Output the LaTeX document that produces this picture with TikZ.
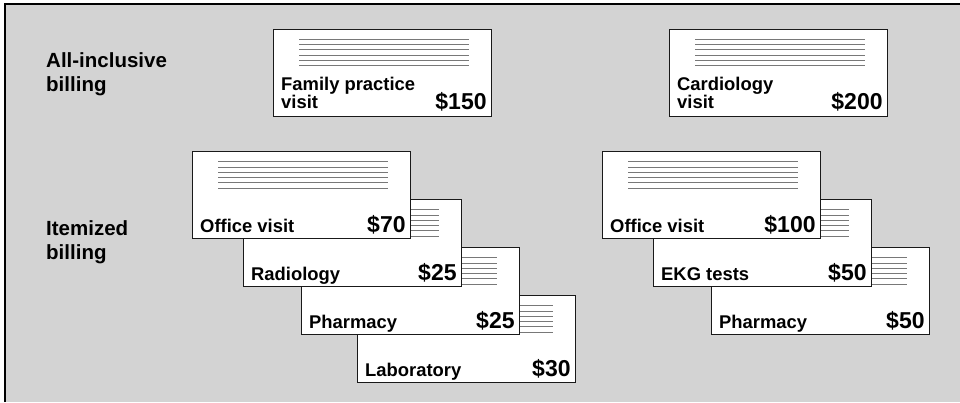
\documentclass[tikz,border=0pt]{standalone}
\usepackage{fontspec}
\setmainfont{Liberation Sans}
\begin{document}
\definecolor{panel}{RGB}{211,211,211}
\definecolor{rulegray}{RGB}{120,120,120}
\definecolor{edge}{RGB}{25,25,25}
\tikzset{
  card/.style={draw=edge, fill=white, line width=1.3bp, anchor=north west,
    inner sep=0pt, minimum width=218bp, minimum height=87bp},
  rule/.style={draw=rulegray, line width=0.9bp},
  itemtext/.style={anchor=base west, inner sep=0pt,
    font=\fontsize{18.4bp}{18.4bp}\selectfont\bfseries},
  pricetext/.style={anchor=base east, inner sep=0pt,
    font=\fontsize{23bp}{23bp}\selectfont\bfseries},
  sidetext/.style={anchor=base west, inner sep=0pt,
    font=\fontsize{20.5bp}{20.5bp}\selectfont\bfseries},
}
% a bill: name, left, top, price; the ruled lines near its top edge
\newcommand{\billcard}[4]{%
  \node[card] (#1) at (#2,#3) {};
  \foreach \k in {0,...,5}
    \draw[rule] ([shift={(26,10.7+5.3*\k)}]#1.north west) -- ++(170,0);
  \node[pricetext] (#1p) at ([shift={(-5.5,-7)}]#1.south east) {#4};
}
\begin{tikzpicture}[x=1bp, y=-1bp]
  \useasboundingbox (0,0) rectangle (960,402);
  \fill[white] (0,0) rectangle (960,402);
  \fill[panel] (5,4) rectangle (960,402);
  \draw[line width=1.6bp, black] (5,402) -- (5,4) -- (960,4);

  % row labels
  \node[sidetext] (allA) at (46,67.7) {All-inclusive};
  \node[sidetext] (allB) at (46,91.7) {billing};
  \node[sidetext] (itA) at (46,235.5) {Itemized};
  \node[sidetext] (itB) at (46,259.5) {billing};

  % all-inclusive bills
  \billcard{fam}{273}{28.5}{\$150}
  \node[itemtext] (famA) at ([shift={(8,-26.7)}]fam.south west) {Family practice};
  \node[itemtext] (famB) at ([shift={(8,-8.7)}]fam.south west) {visit};

  \billcard{card}{669}{28.5}{\$200}
  \node[itemtext] (cardA) at ([shift={(8,-26.7)}]card.south west) {Cardiology};
  \node[itemtext] (cardB) at ([shift={(8,-8.7)}]card.south west) {visit};

  % itemized stack, family practice (back to front)
  \billcard{lab}{357}{295}{\$30}
  \node[itemtext] (labA) at ([shift={(8,-7.3)}]lab.south west) {Laboratory};
  \billcard{phA}{301}{247}{\$25}
  \node[itemtext] (phAt) at ([shift={(8,-7.3)}]phA.south west) {Pharmacy};
  \billcard{rad}{243}{199}{\$25}
  \node[itemtext] (radt) at ([shift={(8,-7.3)}]rad.south west) {Radiology};
  \billcard{offA}{192}{151}{\$70}
  \node[itemtext] (offAt) at ([shift={(8,-7.3)}]offA.south west) {Office visit};

  % itemized stack, cardiology (back to front)
  \billcard{phB}{711}{247}{\$50}
  \node[itemtext] (phBt) at ([shift={(8,-7.3)}]phB.south west) {Pharmacy};
  \billcard{ekg}{653}{199}{\$50}
  \node[itemtext] (ekgt) at ([shift={(8,-7.3)}]ekg.south west) {EKG tests};
  \billcard{offB}{602}{151}{\$100}
  \node[itemtext] (offBt) at ([shift={(8,-7.3)}]offB.south west) {Office visit};
\end{tikzpicture}
\end{document}
